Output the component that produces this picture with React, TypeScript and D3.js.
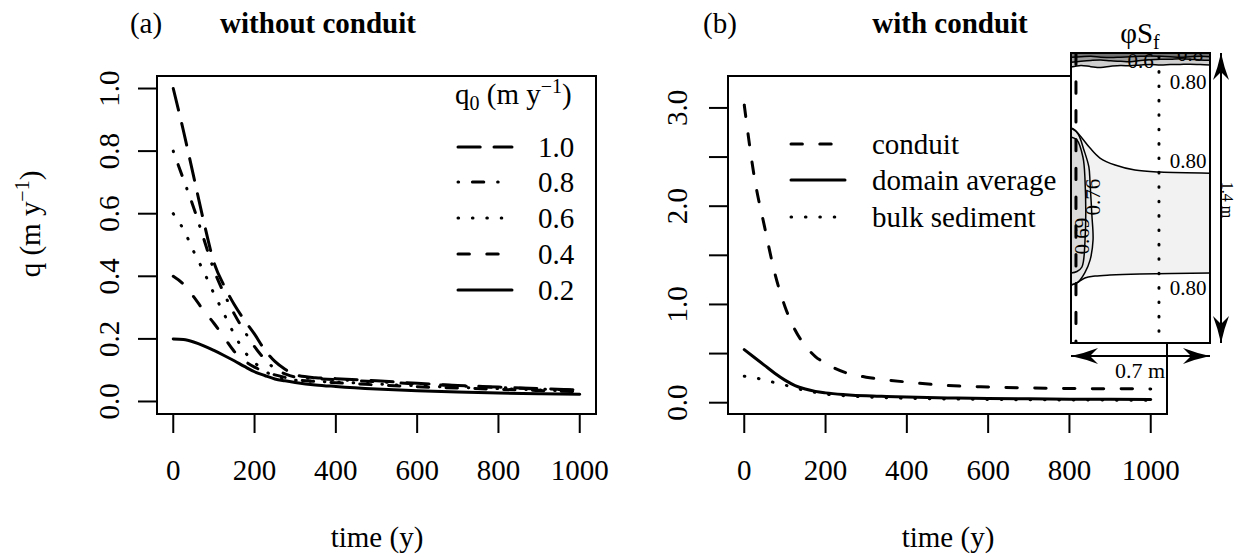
import React from 'react';
import * as d3 from 'd3';

// ---------- data ----------
const T_A = [0, 25, 50, 75, 100, 125, 150, 175, 200, 225, 250, 275, 300, 350, 400, 500, 600, 700, 800, 900, 1000];
const Q_10 = [1.0, 0.865, 0.72, 0.575, 0.445, 0.37, 0.31, 0.26, 0.215, 0.165, 0.128, 0.103, 0.085, 0.076, 0.073, 0.066, 0.058, 0.051, 0.046, 0.041, 0.037];
const Q_08 = [0.8, 0.71, 0.62, 0.52, 0.42, 0.345, 0.28, 0.225, 0.175, 0.135, 0.105, 0.088, 0.078, 0.073, 0.07, 0.063, 0.056, 0.05, 0.045, 0.04, 0.036];
const Q_06 = [0.6, 0.55, 0.48, 0.415, 0.345, 0.28, 0.215, 0.16, 0.125, 0.097, 0.082, 0.073, 0.068, 0.064, 0.062, 0.056, 0.05, 0.045, 0.041, 0.037, 0.033];
const Q_04 = [0.4, 0.375, 0.335, 0.29, 0.25, 0.205, 0.16, 0.13, 0.11, 0.095, 0.085, 0.077, 0.07, 0.064, 0.06, 0.053, 0.047, 0.043, 0.039, 0.035, 0.031];
const Q_02 = [0.2, 0.198, 0.19, 0.178, 0.163, 0.147, 0.13, 0.112, 0.095, 0.083, 0.072, 0.066, 0.061, 0.053, 0.048, 0.04, 0.034, 0.03, 0.027, 0.025, 0.023];
const LEGEND_A = ['1.0', '0.8', '0.6', '0.4', '0.2'];

const T_B = [0, 25, 50, 75, 100, 125, 150, 175, 200, 250, 300, 350, 400, 500, 600, 700, 800, 900, 1000];
const CONDUIT = [3.03, 2.29, 1.79, 1.32, 0.98, 0.74, 0.58, 0.47, 0.40, 0.305, 0.26, 0.232, 0.21, 0.175, 0.16, 0.15, 0.145, 0.142, 0.14];
const DOMAIN = [0.54, 0.46, 0.38, 0.30, 0.23, 0.175, 0.14, 0.115, 0.10, 0.082, 0.07, 0.063, 0.057, 0.049, 0.043, 0.039, 0.036, 0.034, 0.032];
const BULK = [0.27, 0.255, 0.23, 0.205, 0.18, 0.15, 0.125, 0.105, 0.088, 0.07, 0.058, 0.051, 0.045, 0.038, 0.033, 0.03, 0.028, 0.026, 0.025];
const LEGEND_B = ['conduit', 'domain average', 'bulk sediment'];

const X_TICKS = [0, 200, 400, 600, 800, 1000];
const Y_TICKS_A = [0, 0.2, 0.4, 0.6, 0.8, 1.0];
const Y_TICKS_B = [0, 0.5, 1.0, 1.5, 2.0, 2.5, 3.0];
const Y_LABELS_B = [0, 1.0, 2.0, 3.0];

// inset (metres: x across 0..0.7, y down 0..1.4)
const TOP_X = [0, 0.05, 0.1, 0.15, 0.2, 0.25, 0.3, 0.35, 0.4, 0.45, 0.5, 0.55, 0.6, 0.65, 0.7];
const TOP_Y1 = [0.02, 0.018, 0.016, 0.02, 0.022, 0.02, 0.018, 0.016, 0.014, 0.016, 0.018, 0.02, 0.018, 0.016, 0.018];
const TOP_Y2 = [0.045, 0.04, 0.036, 0.034, 0.038, 0.04, 0.042, 0.036, 0.032, 0.03, 0.03, 0.028, 0.03, 0.034, 0.035];
const TOP_Y3 = [0.068, 0.06, 0.066, 0.07, 0.064, 0.06, 0.062, 0.058, 0.055, 0.058, 0.056, 0.055, 0.054, 0.056, 0.058];
const UPPER_080 = [[0, 0.362], [0.02, 0.372], [0.055, 0.41], [0.096, 0.459], [0.146, 0.507], [0.222, 0.541], [0.322, 0.565], [0.448, 0.575], [0.7, 0.58]];
const LOWER_080 = [[0, 1.12], [0.03, 1.11], [0.07, 1.086], [0.121, 1.077], [0.196, 1.072], [0.347, 1.067], [0.7, 1.062]];
const C_076 = [[0, 0.362], [0.035, 0.39], [0.065, 0.468], [0.09, 0.55], [0.096, 0.628], [0.105, 0.78], [0.111, 0.903], [0.096, 1.0], [0.07, 1.06], [0.035, 1.106], [0, 1.12]];
const C_069 = [[0, 0.405], [0.03, 0.42], [0.06, 0.502], [0.07, 0.6], [0.07, 0.917], [0.055, 1.033], [0.03, 1.055], [0, 1.062]];
const CONDUIT_X = 0.025;
const BULK_X = 0.443;

// ---------- layout ----------
const FONT = '"Liberation Serif", "Times New Roman", serif';
const FS = 29;
const LW = 3;
const S = 3.6;
const dash = (pat: number[]) => pat.map((v, i) => (i % 2 === 0 ? Math.max(v * S - LW, 0.01) : v * S + LW)).join(' ');
const SOLID = 'none';
const DASHED = dash([4, 4]);
const DOTTED = dash([1, 3]);
const DOTDASH = dash([1, 3, 4, 3]);
const LONGDASH = dash([7, 3]);

const boxA = { x0: 157, x1: 596, y0: 76, y1: 414 };
const boxB = { x0: 728, x1: 1167, y0: 76, y1: 414 };

const xA = d3.scaleLinear().domain([-40, 1040]).range([boxA.x0, boxA.x1]);
const yA = d3.scaleLinear().domain([-0.04, 1.04]).range([boxA.y1, boxA.y0]);
const xB = d3.scaleLinear().domain([-40, 1040]).range([boxB.x0, boxB.x1]);
const yB = d3.scaleLinear().domain([-0.115, 3.325]).range([boxB.y1, boxB.y0]);

const ix = d3.scaleLinear().domain([0, 0.7]).range([1071, 1210]);
const iy = d3.scaleLinear().domain([0, 1.4]).range([53, 343]);

function seriesPath(T: number[], Q: number[], x: any, y: any) {
  const line = d3.line<number>().x((_, i) => x(T[i])).y((d) => y(d)).curve(d3.curveMonotoneX);
  return line(Q) || '';
}

const pline = d3.line<number[]>().x((d) => ix(d[0])).y((d) => iy(d[1])).curve(d3.curveCatmullRom);
const pfill = d3.line<number[]>().x((d) => ix(d[0])).y((d) => iy(d[1])).curve(d3.curveLinear);

function topArea(a: number[], b: number[]) {
  const ar = d3.area<number>().x((d) => ix(d)).y0((_, i) => iy(a[i])).y1((_, i) => iy(b[i])).curve(d3.curveCatmullRom);
  return ar(TOP_X) || '';
}

const fmt1 = (v: number) => v.toFixed(1);

function Arrow({ x1, y1, x2, y2 }: { x1: number; y1: number; x2: number; y2: number }) {
  const ang = (Math.atan2(y2 - y1, x2 - x1) * 180) / Math.PI;
  const head = 'M0,0 Q-14,-3 -27,-8 L-19,0 L-27,8 Q-14,3 0,0 Z';
  return (
    <g>
      <line x1={x1} y1={y1} x2={x2} y2={y2} stroke="#000" strokeWidth={2} />
      <path d={head} transform={`translate(${x2},${y2}) rotate(${ang})`} fill="#000" />
      <path d={head} transform={`translate(${x1},${y1}) rotate(${ang + 180})`} fill="#000" />
    </g>
  );
}

export default function App() {
  const seriesA = [
    { q: Q_10, d: LONGDASH },
    { q: Q_08, d: DOTDASH },
    { q: Q_06, d: DOTTED },
    { q: Q_04, d: DASHED },
    { q: Q_02, d: SOLID },
  ];
  const seriesB = [
    { q: CONDUIT, d: DASHED },
    { q: DOMAIN, d: SOLID },
    { q: BULK, d: DOTTED },
  ];
  const legARows = [147, 182, 218, 254, 290];
  const legBRows = [144, 180, 217];

  return (
    <div style={{ position: 'fixed', left: 0, top: 0, width: 1238, height: 557, background: '#fff' }}>
      <svg width={1238} height={557} style={{ display: 'block', fontFamily: FONT }}>
        <rect width={1238} height={557} fill="#fff" />
        <defs>
          <clipPath id="insetClip">
            <rect x={ix(0)} y={iy(0)} width={ix(0.7) - ix(0)} height={iy(1.4) - iy(0)} />
          </clipPath>
        </defs>

        {/* ===== Panel A ===== */}
        <text x={146} y={33} fontSize={FS} textAnchor="middle">(a)</text>
        <text x={318} y={33} fontSize={FS} fontWeight="bold" textAnchor="middle">without conduit</text>

        <g fill="none" stroke="#000" strokeLinecap="round" strokeLinejoin="round">
          {seriesA.map((s, i) => (
            <path key={i} d={seriesPath(T_A, s.q, xA, yA)} strokeWidth={LW} strokeDasharray={s.d} />
          ))}
        </g>
        <rect x={boxA.x0} y={boxA.y0} width={boxA.x1 - boxA.x0} height={boxA.y1 - boxA.y0} fill="none" stroke="#000" strokeWidth={2} />
        {X_TICKS.map((t) => (
          <g key={t}>
            <line x1={xA(t)} x2={xA(t)} y1={boxA.y1} y2={boxA.y1 + 19} stroke="#000" strokeWidth={2} />
            <text x={xA(t)} y={480} fontSize={FS} textAnchor="middle">{t}</text>
          </g>
        ))}
        {Y_TICKS_A.map((v) => (
          <g key={v}>
            <line x1={boxA.x0 - 19} x2={boxA.x0} y1={yA(v)} y2={yA(v)} stroke="#000" strokeWidth={2} />
            <text transform={`translate(119,${yA(v)}) rotate(-90)`} fontSize={FS} textAnchor="middle">{fmt1(v)}</text>
          </g>
        ))}
        <text x={377} y={547} fontSize={FS} textAnchor="middle">time (y)</text>
        <text transform="translate(40,224) rotate(-90)" fontSize={FS} textAnchor="middle">
          q (m y<tspan dy={-11} fontSize={20}>−1</tspan><tspan dy={11}>)</tspan>
        </text>

        {/* legend A */}
        <text x={455} y={104} fontSize={FS}>
          q<tspan dy={6} fontSize={20}>0</tspan><tspan dy={-6}> (m y</tspan><tspan dy={-11} fontSize={20}>−1</tspan><tspan dy={11}>)</tspan>
        </text>
        {LEGEND_A.map((lab, i) => (
          <g key={lab}>
            <line x1={458} x2={512} y1={legARows[i]} y2={legARows[i]} stroke="#000" strokeWidth={LW} strokeLinecap="round" strokeDasharray={seriesA[i].d} />
            <text x={538} y={legARows[i] + 10} fontSize={FS}>{lab}</text>
          </g>
        ))}

        {/* ===== Panel B ===== */}
        <text x={720} y={33} fontSize={FS} textAnchor="middle">(b)</text>
        <text x={950} y={33} fontSize={FS} fontWeight="bold" textAnchor="middle">with conduit</text>

        <g fill="none" stroke="#000" strokeLinecap="round" strokeLinejoin="round">
          {seriesB.map((s, i) => (
            <path key={i} d={seriesPath(T_B, s.q, xB, yB)} strokeWidth={LW} strokeDasharray={s.d} />
          ))}
        </g>
        <rect x={boxB.x0} y={boxB.y0} width={boxB.x1 - boxB.x0} height={boxB.y1 - boxB.y0} fill="none" stroke="#000" strokeWidth={2} />
        {X_TICKS.map((t) => (
          <g key={t}>
            <line x1={xB(t)} x2={xB(t)} y1={boxB.y1} y2={boxB.y1 + 19} stroke="#000" strokeWidth={2} />
            <text x={xB(t)} y={480} fontSize={FS} textAnchor="middle">{t}</text>
          </g>
        ))}
        {Y_TICKS_B.map((v) => (
          <line key={v} x1={boxB.x0 - 19} x2={boxB.x0} y1={yB(v)} y2={yB(v)} stroke="#000" strokeWidth={2} />
        ))}
        {Y_LABELS_B.map((v) => (
          <text key={v} transform={`translate(687,${yB(v)}) rotate(-90)`} fontSize={FS} textAnchor="middle">{fmt1(v)}</text>
        ))}
        <text x={948} y={547} fontSize={FS} textAnchor="middle">time (y)</text>

        {/* legend B */}
        {LEGEND_B.map((lab, i) => (
          <g key={lab}>
            <line x1={791} x2={845} y1={legBRows[i]} y2={legBRows[i]} stroke="#000" strokeWidth={LW} strokeLinecap="round" strokeDasharray={seriesB[i].d} />
            <text x={872} y={legBRows[i] + 10} fontSize={FS}>{lab}</text>
          </g>
        ))}

        {/* ===== Inset ===== */}
        <rect x={ix(0)} y={iy(0)} width={ix(0.7) - ix(0)} height={iy(1.4) - iy(0)} fill="#fff" />
        <g clipPath="url(#insetClip)">
          <rect x={ix(0)} y={iy(0)} width={ix(0.7) - ix(0)} height={iy(0.03) - iy(0)} fill="#707070" />
          <path d={topArea(TOP_Y1, TOP_Y2)} fill="#9c9c9c" />
          <path d={topArea(TOP_Y2, TOP_Y3)} fill="#cfcfcf" />
          <path d={pfill([...UPPER_080, ...[...LOWER_080].reverse()]) + 'Z'} fill="#f2f2f2" />
          <path d={pfill(C_076) + 'Z'} fill="#e8e8e8" />
          <path d={pfill(C_069) + 'Z'} fill="#dadada" />
          <g fill="none" stroke="#000" strokeWidth={1.5}>
            <path d={pline(TOP_X.map((x, i) => [x, TOP_Y1[i]])) || ''} />
            <path d={pline(TOP_X.map((x, i) => [x, TOP_Y2[i]])) || ''} />
            <path d={pline(TOP_X.map((x, i) => [x, TOP_Y3[i]])) || ''} />
            <path d={pline(UPPER_080) || ''} />
            <path d={pline(LOWER_080) || ''} />
            <path d={pline(C_076) || ''} />
            <path d={pline(C_069) || ''} />
          </g>
          <text x={ix(0.35)} y={iy(0.07)} fontSize={21} textAnchor="middle">0.6</text>
          <text x={ix(0.6)} y={iy(0.04)} fontSize={21} textAnchor="middle">0.8</text>
          <line x1={ix(CONDUIT_X)} x2={ix(CONDUIT_X)} y1={iy(0)} y2={iy(1.4)} stroke="#000" strokeWidth={LW} strokeDasharray={DASHED} strokeLinecap="round" />
          <line x1={ix(BULK_X)} x2={ix(BULK_X)} y1={iy(0.02)} y2={iy(1.4)} stroke="#000" strokeWidth={LW} strokeDasharray={DOTTED} strokeLinecap="round" />
        </g>
        <rect x={ix(0)} y={iy(0)} width={ix(0.7) - ix(0)} height={iy(1.4) - iy(0)} fill="none" stroke="#000" strokeWidth={2} />
        <g fontSize={21}>
          <text x={1188} y={89} textAnchor="middle">0.80</text>
          <text x={1188} y={168} textAnchor="middle">0.80</text>
          <text x={1188} y={295} textAnchor="middle">0.80</text>
          <text transform={`translate(${ix(0.103) + 9},197) rotate(-90)`} textAnchor="middle">0.76</text>
          <text transform={`translate(${ix(0.05) + 8},236) rotate(-90)`} textAnchor="middle">0.69</text>
        </g>
        <text x={1140} y={43} fontSize={FS} textAnchor="middle">φS<tspan dy={6} fontSize={20}>f</tspan></text>
        <Arrow x1={1221} y1={iy(1.4)} x2={1221} y2={iy(0)} />
        <Arrow x1={ix(0)} y1={356} x2={ix(0.7)} y2={356} />
        <text x={1140} y={378} fontSize={22} textAnchor="middle">0.7 m</text>
        <text transform="translate(1222,200) rotate(90)" fontSize={16} textAnchor="middle">1.4 m</text>
      </svg>
    </div>
  );
}
